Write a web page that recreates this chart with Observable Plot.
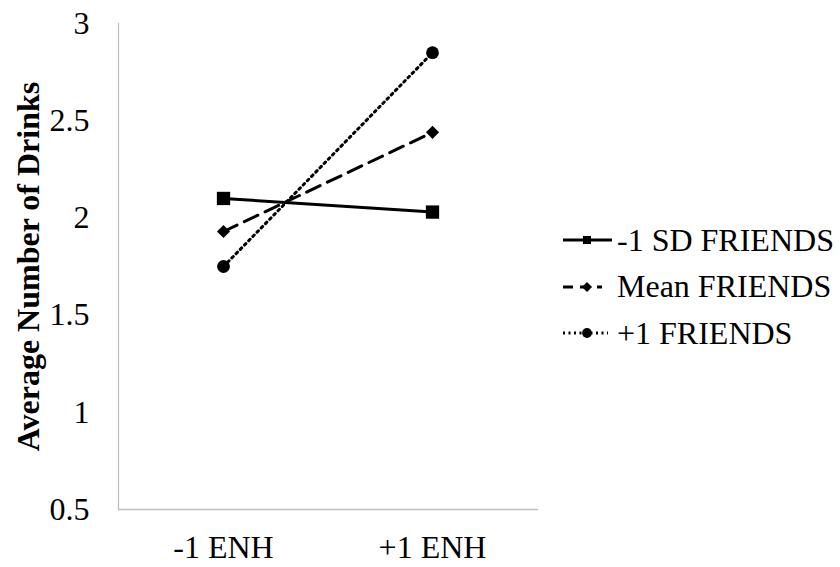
<!DOCTYPE html>
<html>
<head>
<meta charset="utf-8">
<script src="https://cdn.jsdelivr.net/npm/d3@7"></script>
<script src="https://cdn.jsdelivr.net/npm/@observablehq/plot@0.6"></script>
<style>
  html, body { margin: 0; padding: 0; background: #fff; }
  #wrap { position: relative; width: 840px; height: 567px; font-family: "Liberation Serif", "Times New Roman", serif; }
  #legend { position: absolute; left: 561px; top: 217px; }
  .row { display: flex; align-items: center; height: 46.5px; font-size: 32px; color: #000; white-space: nowrap; }
  .row svg { margin-right: 4px; flex: none; }
</style>
</head>
<body>
<div id="wrap"></div>
<script>
const categories = ["-1 ENH", "+1 ENH"];
const seriesNames = ["-1 SD FRIENDS", "Mean FRIENDS", "+1 FRIENDS"];
const lowFriends = [2.10, 2.03];
const meanFriends = [1.93, 2.44];
const highFriends = [1.75, 2.85];
const yTicks = [0.5, 1, 1.5, 2, 2.5, 3];

const seriesValues = [lowFriends, meanFriends, highFriends];
const styles = [
  {dash: null, symbol: "square", r: 7.5, legendDash: null, legendEnd: 51, legendSize: 64},
  {dash: "15,8", symbol: "diamond2", r: 5.9, legendDash: "10,7", legendEnd: 41, legendSize: 65},
  {dash: "2,4", symbol: "circle", r: 6.4, legendDash: "2,3.5", legendEnd: 47, legendSize: 75}
];
const data = [];
seriesNames.forEach((s, i) => categories.forEach((c, j) => data.push({series: s, cat: c, value: seriesValues[i][j]})));

const marks = [
  Plot.frame({anchor: "left", stroke: "#bfbfbf", strokeWidth: 1.3}),
  Plot.frame({anchor: "bottom", stroke: "#bfbfbf", strokeWidth: 1.3}),
  Plot.axisY({ticks: yTicks, tickSize: 0, tickPadding: 29, fontSize: 32, tickFormat: d => String(d),
    label: "Average Number of Drinks", labelAnchor: "center", labelArrow: "none", labelOffset: 102}),
  Plot.axisX({tickSize: 0, tickPadding: 26, fontSize: 32, label: null})
];
seriesNames.forEach((s, i) => {
  const d = data.filter(e => e.series === s);
  marks.push(Plot.line(d, {x: "cat", y: "value", stroke: "#000", strokeWidth: 3, strokeDasharray: styles[i].dash}));
  marks.push(Plot.dot(d, {x: "cat", y: "value", symbol: () => styles[i].symbol, r: styles[i].r, fill: "#000", stroke: "none"}));
});

const chart = Plot.plot({
  width: 840,
  height: 567,
  marginLeft: 118,
  marginRight: 303,
  marginTop: 23,
  marginBottom: 58,
  style: {fontFamily: "'Liberation Serif', 'Times New Roman', serif", color: "#000", background: "#fff", overflow: "visible"},
  x: {type: "point", domain: categories, padding: 0.5},
  y: {domain: [0.5, 3]},
  symbol: {type: "identity"},
  marks
});
document.getElementById("wrap").appendChild(chart);

// make y-axis title bold
chart.querySelectorAll("g[aria-label='y-axis label'] text").forEach(t => { t.setAttribute("font-weight", "bold"); });

// legend
const legend = document.createElement("div");
legend.id = "legend";
seriesNames.forEach((s, i) => {
  const st = styles[i];
  const row = document.createElement("div");
  row.className = "row";
  const sv = d3.create("svg").attr("width", 52).attr("height", 20);
  sv.append("line").attr("x1", 2).attr("x2", st.legendEnd).attr("y1", 10).attr("y2", 10)
    .attr("stroke", "#000").attr("stroke-width", 3).attr("stroke-dasharray", st.legendDash);
  const sym = st.symbol === "square" ? d3.symbolSquare : st.symbol === "diamond2" ? d3.symbolDiamond2 : d3.symbolCircle;
  sv.append("path").attr("d", d3.symbol(sym, st.legendSize)()).attr("transform", "translate(26,10)").attr("fill", "#000");
  row.appendChild(sv.node());
  const span = document.createElement("span");
  span.textContent = s;
  row.appendChild(span);
  legend.appendChild(row);
});
document.getElementById("wrap").appendChild(legend);
</script>
</body>
</html>
